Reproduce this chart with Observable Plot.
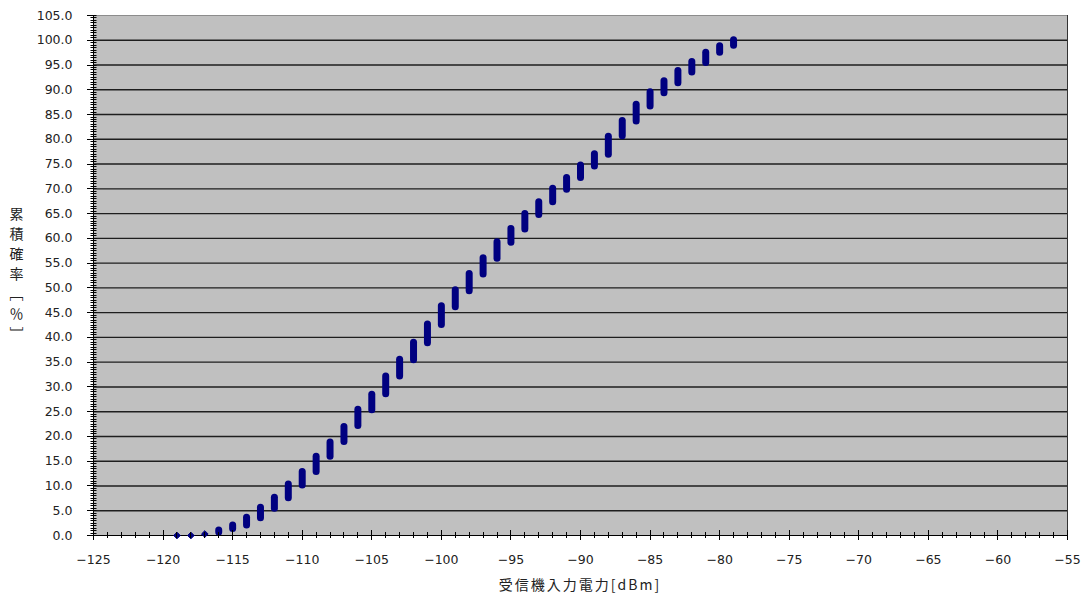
<!DOCTYPE html>
<html>
<head>
<meta charset="utf-8">
<script src="https://cdn.jsdelivr.net/npm/d3@7"></script>
<script src="https://cdn.jsdelivr.net/npm/@observablehq/plot@0.6"></script>
<style>
  html, body { margin: 0; padding: 0; background: #fff; }
  #chart { width: 1086px; height: 599px; }
</style>
</head>
<body>
<div id="chart"></div>
<script>
// Received power [dBm]
const dbm = [-119,-118,-117,-116,-115,-114,-113,-112,-111,-110,-109,-108,-107,-106,-105,-104,-103,-102,-101,-100,
             -99,-98,-97,-96,-95,-94,-93,-92,-91,-90,-89,-88,-87,-86,-85,-84,-83,-82,-81,-80,-79];
// Cumulative probability range [%] at each dBm (low / high end of each marker stack)
const cumLow  = [0,0,0.3,0.6,1.3,2.0,3.5,5.4,7.5,10.1,12.8,15.9,18.9,22.1,25.3,28.5,32.1,35.4,38.8,42.5,
                 46.1,49.3,52.7,55.9,59.1,61.8,64.7,67.3,69.8,72.2,74.5,76.9,80.6,83.6,86.6,89.3,91.3,93.5,95.4,97.5,98.9];
const cumHigh = [0,0,0.3,1.0,2.0,3.6,5.6,7.6,10.3,12.8,15.9,18.8,21.9,25.4,28.4,32.1,35.5,38.9,42.6,46.3,
                 49.5,52.8,56.0,59.2,61.9,64.9,67.3,70.0,72.2,74.7,77.0,80.5,83.7,87.0,89.5,91.7,93.8,95.6,97.5,98.8,100.0];

const xTicks = [-125,-120,-115,-110,-105,-100,-95,-90,-85,-80,-75,-70,-65,-60,-55];
const yTicks = [0,5,10,15,20,25,30,35,40,45,50,55,60,65,70,75,80,85,90,95,100,105];
const gridY  = [5,10,15,20,25,30,35,40,45,50,55,60,65,70,75,80,85,90,95,100];
const xLabel = "受信機入力電力[dBm]";
const yLabel = "累積確率［％］";

const rows = dbm.map((d, i) => ({x: d, lo: cumLow[i], hi: cumHigh[i]}));
const segs = rows.filter(r => r.hi > r.lo);
const pts  = rows.filter(r => r.hi === r.lo);

const navy = "#000080";
const font = "'DejaVu Sans', sans-serif";

const plot = Plot.plot({
  width: 1086,
  height: 599,
  marginLeft: 93,
  marginRight: 19,
  marginTop: 15,
  marginBottom: 64,
  style: {fontFamily: font, fontSize: "12px", color: "#000", background: "#fff"},
  x: {domain: [-125, -55], axis: null},
  y: {domain: [0, 105], axis: null},
  marks: [
    Plot.frame({fill: "#c0c0c0", stroke: "#8c8c8c"}),
    Plot.ruleY(gridY, {stroke: "#1e1e1e", strokeWidth: 1.4}),
    Plot.ruleX([-55], {stroke: "#333"}),
    Plot.ruleX([-125], {stroke: "#000"}),
    Plot.ruleY([0], {stroke: "#000"}),
    Plot.axisX({ticks: xTicks, label: null, tickSize: 0, tickPadding: 20, tickFormat: d => d3.format("")(d).replace("-", "\u2212"), fontSize: 12.5, fill: "#222"}),
    Plot.axisY({ticks: yTicks, label: null, tickSize: 0, tickPadding: 21, tickFormat: d => d.toFixed(1), fontSize: 12.5, fill: "#222"}),
    Plot.ruleX(segs, {x: "x", y1: "lo", y2: "hi", stroke: navy, strokeWidth: 7, strokeLinecap: "round"}),
    Plot.dot(pts, {x: "x", y: "lo", symbol: "diamond2", r: 3, fill: navy, stroke: navy, strokeWidth: 1})
  ]
});

// crossing tick marks drawn with the plot's own scales
const sx = plot.scale("x"), sy = plot.scale("y");
const svg = d3.select(plot);
const g = svg.append("g").attr("stroke", "#000").attr("stroke-width", 1);
const x0 = sx.apply(-125), y0 = sy.apply(0);
for (let v = -125; v <= -55; v += 1) {
  const major = (v % 5 === 0);
  const px = Math.round(sx.apply(v)) + 0.5;
  g.append("line").attr("x1", px).attr("x2", px)
    .attr("y1", y0 - (major ? 5 : 3)).attr("y2", y0 + (major ? 5 : 3));
}
for (let v = 0; v <= 105; v += 0.5) {
  const major = (v % 5 === 0);
  const py = Math.round(sy.apply(v)) + 0.5;
  g.append("line").attr("y1", py).attr("y2", py)
    .attr("x1", x0 - (major ? 6 : 2.5)).attr("x2", x0 + 3.5);
}

// axis titles
svg.append("text")
  .attr("x", (sx.apply(-125) + sx.apply(-55)) / 2)
  .attr("y", 590)
  .attr("text-anchor", "middle")
  .attr("font-family", "'Noto Sans CJK JP', sans-serif")
  .attr("font-size", 14)
  .attr("letter-spacing", 2)
  .attr("fill", "#222")
  .text(xLabel);

svg.append("text")
  .attr("x", 16.5)
  .attr("y", 277)
  .attr("text-anchor", "middle")
  .attr("font-family", "'Noto Sans CJK JP', sans-serif")
  .attr("font-size", 14)
  .attr("letter-spacing", 6)
  .attr("fill", "#222")
  .style("writing-mode", "vertical-rl")
  .style("text-orientation", "mixed")
  .text(yLabel);

document.getElementById("chart").appendChild(plot);
</script>
</body>
</html>
